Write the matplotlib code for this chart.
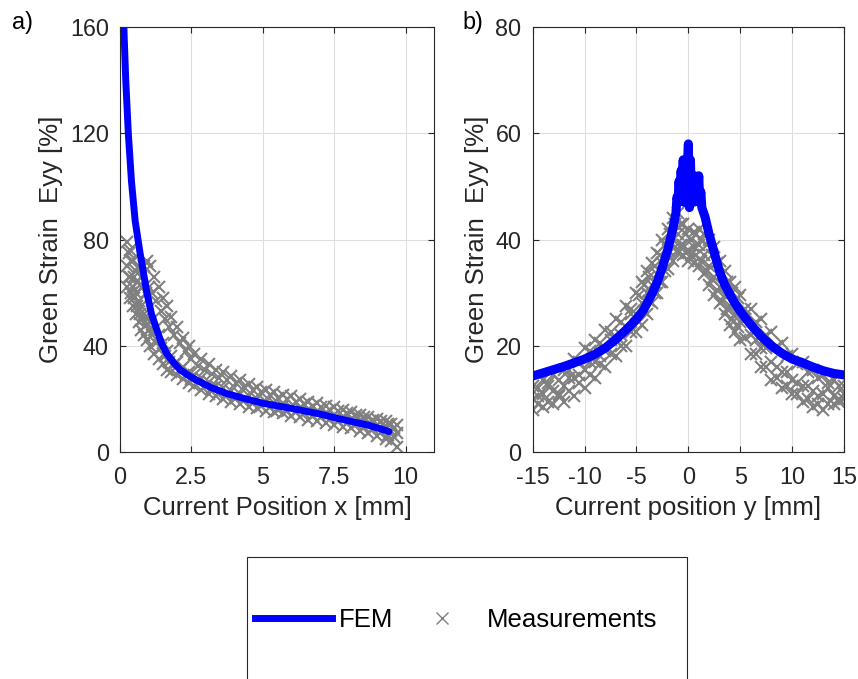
import matplotlib
matplotlib.use('Agg')
import matplotlib.pyplot as plt
from matplotlib.lines import Line2D
from matplotlib.patches import Rectangle

plt.rcParams['font.family'] = ['Liberation Sans', 'DejaVu Sans']
plt.rcParams['axes.unicode_minus'] = False

# ---- panel a) : strain along x ----
fem_a_x = [0.1, 0.15, 0.2, 0.29, 0.4, 0.53, 0.7, 0.94, 1.1, 1.29, 1.45, 1.64, 1.85, 2.1,
           2.4, 2.69, 3.2, 3.74, 4.4, 5.03, 5.7, 6.3, 7.0, 7.6, 8.1, 8.66, 9.1, 9.42]
fem_a_y = [172, 155, 140, 120, 102, 87, 75, 60, 52, 46, 41, 37, 34, 31,
           28.8, 27, 24.2, 22, 20, 18.3, 17, 15.8, 14.3, 12.7, 11.5, 10.2, 8.8, 7.7]

meas_a_x = [0.25, 0.35, 0.45, 0.55, 0.65, 0.75, 0.85, 0.95, 1.05, 1.2, 1.35, 1.5, 1.65, 1.8,
            2.0, 2.2, 2.4, 2.6, 2.85, 3.1, 3.35, 3.6, 3.9, 4.2, 4.5, 4.8, 5.1, 5.4, 5.7,
            6.0, 6.3, 6.6, 6.9, 7.2, 7.5, 7.8, 8.1, 8.4, 8.7, 9.0, 9.3, 9.5, 9.7]
meas_a_up = [79, 76, 72, 68, 70, 66, 70, 72, 70, 66, 62, 58, 55, 51,
             47, 43, 40, 37, 35, 33, 31, 30, 28.5, 27, 25.5, 24.5, 23.5, 22.5, 21.5,
             21, 20, 19, 18.5, 17.5, 17, 16, 15, 14, 13, 12.5, 11.5, 10.5, 10]
meas_a_mid = [70, 66, 62, 60, 57, 55, 52, 50, 49, 46, 44, 41, 38, 36,
              34, 32, 30, 29, 28, 26.5, 25, 24, 23, 22, 21, 20, 19, 18.5, 17.5,
              17, 16.5, 16, 15, 14.5, 14, 13, 12.5, 11.5, 10.5, 10, 9, 8, 7]
meas_a_lo = [62, 58, 55, 52, 49, 46, 44, 42, 40, 37, 35, 33, 31, 30,
             29, 27.5, 26, 25, 23.5, 22, 21, 20, 19, 18, 17, 16.5, 15.5, 15, 14.5,
             13.5, 13, 12, 11.5, 11, 10, 9.5, 9, 8, 7, 6, 5, 4, 2]

meas_a_x2 = [0.3, 0.4, 0.5, 0.6, 0.7, 0.8, 0.9, 1.0, 1.125, 1.275, 1.425, 1.575, 1.725, 1.9,
             2.1, 2.3, 2.5, 2.725, 2.975, 3.225, 3.475, 3.75, 4.05, 4.35, 4.65, 4.95,
             5.25, 5.55, 5.85, 6.15, 6.45, 6.75, 7.05, 7.35, 7.65, 7.95, 8.25, 8.55,
             8.85, 9.15, 9.4, 9.6]
meas_a_upmid = [75, 72, 66, 64, 63, 62, 60, 62, 60, 57, 53, 50, 47, 44,
                41, 38, 35, 32.5, 31, 29.5, 28, 27, 26, 24.5, 23.5, 22.5,
                21.5, 20.5, 20, 19, 18, 17.5, 17, 16, 15.5, 14.5, 14, 13,
                12, 11.5, 10.5, 9]
meas_a_midlo = [66, 60, 58, 55, 52, 50, 48, 46, 44, 41, 39, 36, 34, 33,
                31, 29, 27.5, 26.5, 25, 24, 22.5, 21.5, 20.5, 19.5, 18.5, 17.5,
                17, 16, 15.5, 15, 14.5, 13.5, 13, 12.5, 11.5, 11, 10.5, 9.5,
                8.5, 7.5, 6.5, 5.5]

# ---- panel b) : strain along y ----
fem_b_x = [-15, -14, -13, -12, -11, -10, -9, -8, -7, -6, -5, -4.3, -3.5, -3, -2.5, -2,
           -1.5, -1.2, -1.1, -1.0, -0.9, -0.8, -0.7, -0.6, -0.5, -0.4, -0.3, -0.2, -0.1,
           0, 0.1, 0.2, 0.3, 0.4, 0.5, 0.6, 0.7, 0.8, 0.9, 1.0, 1.1, 1.2, 1.3,
           1.6, 2, 2.5, 3, 3.5, 4.3, 5, 6, 7, 8, 9, 10, 11, 12, 13, 14, 15]
fem_b_y = [14.3, 14.9, 15.5, 16.1, 16.8, 17.5, 18.4, 19.6, 21.2, 23, 25, 26.8, 29.8, 32,
           34.8, 38, 42, 45, 48, 47, 51, 48, 53, 49, 55, 47, 55, 48, 54,
           58, 46, 55, 47, 52, 47, 52, 48, 51, 48, 52, 47, 49, 46,
           44.3, 41, 37.5, 34, 31.5, 28.6, 26.5, 24, 21.8, 20, 18.6, 17.5, 16.8, 16,
           15.3, 14.8, 14.5]

meas_b_x = [-15, -14, -13, -12, -11, -10, -9, -8, -7, -6, -5, -4.5, -4, -3.5, -3, -2.5,
            -2, -1.5, -1, -0.5, 0, 0.5, 1, 1.5, 2, 2.5, 3, 3.5, 4, 4.5, 5, 6, 7, 8, 9,
            10, 11, 12, 13, 14, 15]
meas_b_up = [12.5, 13.5, 14.5, 15.5, 17.5, 19.5, 21, 23, 25, 27.5, 30, 32, 34, 35.5,
             37.5, 40, 42, 44, 45, 43, 42, 41.5, 42, 41, 40, 38.5, 36, 34, 32, 31, 29.5,
             27, 25, 22.5, 20.5, 18.5, 17, 15.5, 14.5, 13.5, 12.5]
meas_b_mid = [10, 11, 11.5, 12.5, 14, 15.5, 17, 19, 21, 23.5, 26, 28, 30, 31.5, 33.5,
              35.5, 38, 40, 41, 39, 38, 38.5, 39, 37, 35, 33, 31, 29.5, 27.5, 26, 24.5,
              22, 19.5, 17, 15, 13.5, 12.5, 11.5, 11, 10.5, 11]
meas_b_lo = [8, 8.5, 9, 9.5, 10.5, 12, 14, 16, 18, 20, 22.5, 24, 26, 28, 30, 32, 34.5,
             36, 37.5, 37, 36, 35.5, 35, 33.5, 31.5, 29.5, 28, 26, 24, 22.5, 21, 18.5,
             16, 13.5, 12, 11, 9.5, 8.5, 8, 9, 10]

meas_b_x3 = [-14.5, -13.5, -12.5, -11.5, -10.5, -9.5, -8.5, -7.5, -6.5, -5.5, -4.75, -4.25,
             -3.75, -3.25, -2.75, -2.25, -1.75, -1.25, -0.75, -0.25, 0.25, 0.75, 1.25,
             1.75, 2.25, 2.75, 3.25, 3.75, 4.25, 4.75, 5.5, 6.5, 7.5, 8.5, 9.5, 10.5,
             11.5, 12.5, 13.5, 14.5]
meas_b_upmid = [12, 13, 13.5, 15.5, 17, 19, 20.5, 22.5, 24.5, 27, 29.5, 31.5,
                33, 35, 37, 39, 41, 43, 43, 41, 40, 41, 40,
                39, 37, 35.5, 33.5, 32, 30, 29, 27, 24.5, 22, 20, 18, 16.5,
                15, 14, 13, 12.5]
meas_b_midlo = [9, 9.5, 10.5, 11.5, 13, 14.5, 16.5, 18.5, 20, 22.5, 24.5, 26.5,
                28.5, 30, 32, 34, 36.5, 38.5, 39, 37.5, 37, 37, 36,
                34, 32.5, 30.5, 28.5, 27, 25, 23.5, 21.5, 18.5, 16, 14, 12.5, 11,
                10, 9, 9, 9.5]
meas_b_x4 = [-14.5, -13.5, -12.5, -11.5, -10.5, -9.5, -8.5, -7.5, -6.5, -5.5,
             5.5, 6.5, 7.5, 8.5, 9.5, 10.5, 11.5, 12.5, 13.5, 14.5]
meas_b_y4 = [10.5, 12.5, 11, 14, 14.5, 17, 18, 21, 22, 26,
             25, 21, 19.5, 16, 15, 13, 12.5, 10.5, 12, 10]

fem_color = (0, 0, 1)
meas_color = (0.5, 0.5, 0.5)
ink = (0.15, 0.15, 0.15)
fs_tick = 16.8
fs_label = 18.5

fig = plt.figure(figsize=(8.58, 6.79), dpi=100)
ax1 = fig.add_axes([0.1399, 0.3343, 0.3660, 0.6259])
ax2 = fig.add_axes([0.6209, 0.3343, 0.3628, 0.6259])

mkw = dict(ls='none', marker='x', color=meas_color, markersize=8, mew=1.5)

ax1.plot(meas_a_x, meas_a_up, **mkw)
ax1.plot(meas_a_x, meas_a_mid, **mkw)
ax1.plot(meas_a_x, meas_a_lo, **mkw)
ax1.plot(meas_a_x2, meas_a_upmid, **mkw)
ax1.plot(meas_a_x2, meas_a_midlo, **mkw)
ax1.plot(fem_a_x, fem_a_y, color=fem_color, lw=5, solid_capstyle='round')

ax2.plot(meas_b_x, meas_b_up, **mkw)
ax2.plot(meas_b_x, meas_b_mid, **mkw)
ax2.plot(meas_b_x, meas_b_lo, **mkw)
ax2.plot(meas_b_x3, meas_b_upmid, **mkw)
ax2.plot(meas_b_x3, meas_b_midlo, **mkw)
ax2.plot(meas_b_x4, meas_b_y4, **mkw)
ax2.plot(fem_b_x, fem_b_y, color=fem_color, lw=6.5, solid_capstyle='round',
         solid_joinstyle='round')

ax1.set_xlim(0, 11)
ax1.set_ylim(0, 160)
ax1.set_xticks([0, 2.5, 5, 7.5, 10])
ax1.set_xticklabels(['0', '2.5', '5', '7.5', '10'])
ax1.set_yticks([0, 40, 80, 120, 160])
ax1.set_xlabel('Current Position x [mm]', fontsize=fs_label, color=ink, labelpad=5)

ax2.set_xlim(-15, 15)
ax2.set_ylim(0, 80)
ax2.set_xticks([-15, -10, -5, 0, 5, 10, 15])
ax2.set_yticks([0, 20, 40, 60, 80])
ax2.set_xlabel('Current position y [mm]', fontsize=fs_label, color=ink, labelpad=5)

for ax in (ax1, ax2):
    ax.set_ylabel('Green Strain  Eyy [%]', fontsize=fs_label, color=ink, labelpad=5)
    ax.grid(True, color=(0.87, 0.87, 0.87), lw=0.8)
    ax.set_axisbelow(True)
    ax.tick_params(direction='in', length=4, width=0.8, colors=ink, labelsize=fs_tick,
                   top=True, right=True)
    ax.tick_params(axis='x', pad=10)
    ax.tick_params(axis='y', pad=8)
    for sp in ax.spines.values():
        sp.set_color(ink)
        sp.set_linewidth(0.8)

fig.text(12 / 858, 1 - 22 / 679, 'a)', fontsize=fs_tick, color='black', va='center')
fig.text(462 / 858, 1 - 22 / 679, 'b)', fontsize=fs_tick, color='black', va='center')

# legend below the panels
handles = [Line2D([], [], color=fem_color, lw=5),
           Line2D([], [], ls='none', marker='x', color=meas_color, markersize=8, mew=1.0)]
fig.legend(handles, ['FEM', 'Measurements'], ncol=2, loc='center left',
           bbox_to_anchor=(255 / 858, 59 / 679), frameon=False, fontsize=fs_label,
           handlelength=3.0, handletextpad=0.25, columnspacing=0.42,
           borderpad=0, borderaxespad=0)
fig.patches.append(Rectangle((246.7 / 858, -0.02), 440 / 858, 0.02 + 122.3 / 679,
                             transform=fig.transFigure, fill=False, ec=ink, lw=0.8))

fig.savefig('out.png', dpi=100)
